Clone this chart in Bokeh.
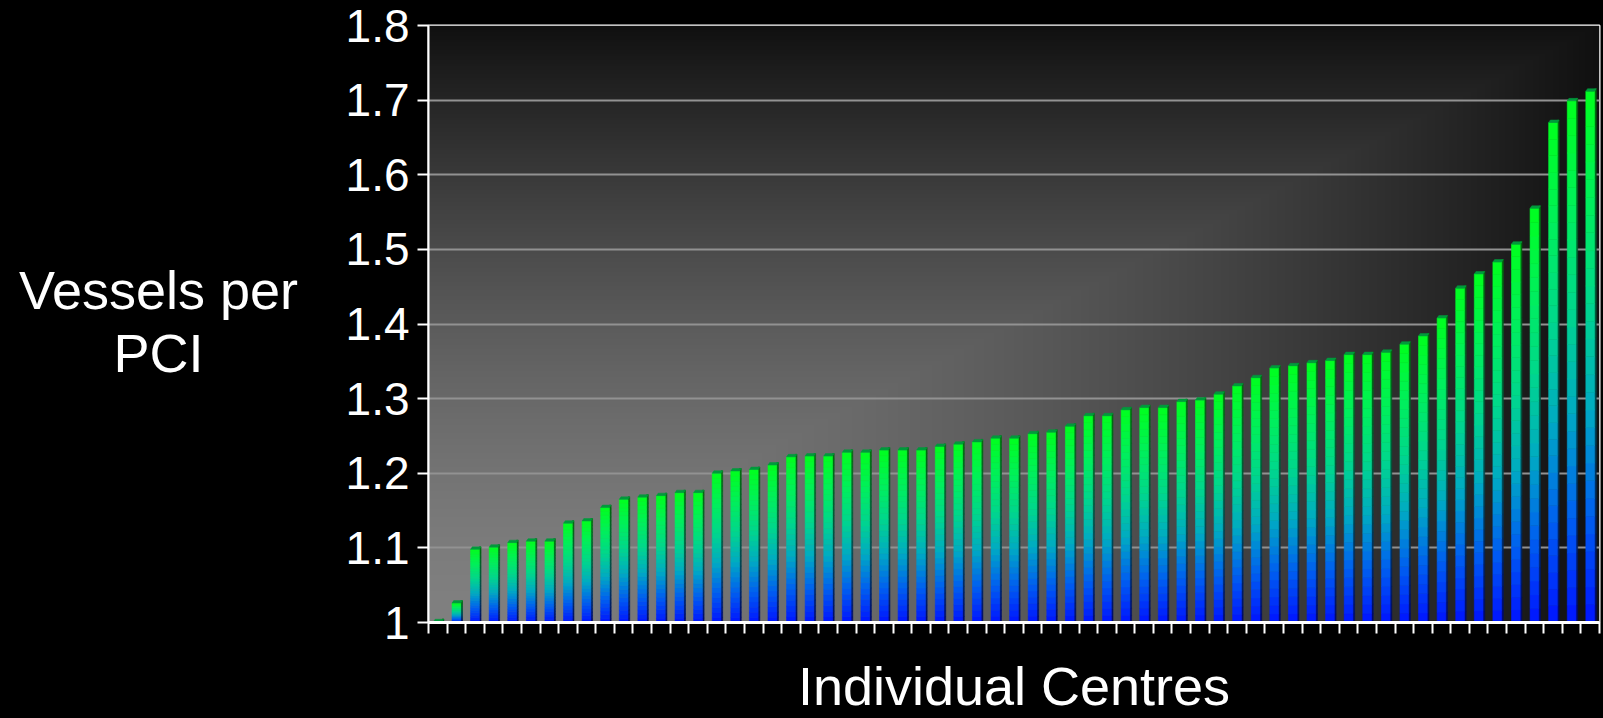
import numpy as np
from bokeh.plotting import figure
from bokeh.layouts import row
from bokeh.models import FixedTicker, CustomJSTickFormatter
from bokeh.core.properties import value
from bokeh.embed import file_html
from bokeh.resources import INLINE

# ---------------- data ----------------
values = [1.001, 1.026, 1.098, 1.101, 1.107, 1.109, 1.109, 1.133, 1.136, 1.154,
          1.165, 1.168, 1.170, 1.174, 1.174, 1.200, 1.203, 1.205, 1.211, 1.222,
          1.223, 1.223, 1.228, 1.228, 1.231, 1.231, 1.231, 1.236, 1.239, 1.242,
          1.247, 1.247, 1.253, 1.255, 1.263, 1.277, 1.277, 1.285, 1.288, 1.288,
          1.296, 1.298, 1.306, 1.317, 1.328, 1.341, 1.344, 1.348, 1.351, 1.359,
          1.359, 1.362, 1.373, 1.384, 1.408, 1.448, 1.467, 1.483, 1.507, 1.555,
          1.670, 1.699, 1.712]
y_ticks = [1.0, 1.1, 1.2, 1.3, 1.4, 1.5, 1.6, 1.7, 1.8]
x_title = "Individual Centres"
y_title_lines = ["Vessels per", "PCI"]

# ---------------- layout ----------------
n = len(values)
TOTAL_W, H = 1603, 718
LW = 316                      # width of the left title panel
W = TOTAL_W - LW
ML, MR, MT, MB = 112, 4, 25, 96
y0, y1 = 1.0, 1.8
FW = W - ML - MR
FH = H - MT - MB
px_x = n / FW
px_y = (y1 - y0) / FH

FONT = "Liberation Sans"

# ---- left panel with the y title (pixel coordinates) ----
lt = figure(width=LW, height=H, x_range=(0, LW), y_range=(H - MB, MT),
            x_axis_type=None, y_axis_type=None, output_backend="svg",
            toolbar_location=None, min_border_left=0, min_border_right=0,
            min_border_top=MT, min_border_bottom=MB)
lt.background_fill_alpha = 0
lt.border_fill_color = "black"
lt.outline_line_color = None
lt.xgrid.visible = False
lt.ygrid.visible = False
lt.text(x=[158, 158], y=[289, 352], text=y_title_lines, text_align="center",
        text_baseline="alphabetic", text_font=value(FONT), text_font_size="54px",
        text_color="white")

# ---- main chart ----
p = figure(width=W, height=H, x_range=(-0.5, n - 0.5), y_range=(y0, y1),
           output_backend="svg", toolbar_location=None,
           min_border_left=ML, min_border_right=MR, min_border_top=MT, min_border_bottom=MB)
p.background_fill_color = "black"
p.border_fill_color = "black"
p.outline_line_color = "white"
p.outline_line_width = 2

# background gradient (rectangular path gradient from bottom-left)
gw, gh = 586, 299
u = (np.arange(gw) + 0.5) / gw
v = (np.arange(gh) + 0.5) / gh
U, V = np.meshgrid(u, v)
t = np.maximum(U, V)
b = np.clip(16 + 112 * (1 - t ** 1.6), 0, 255).astype(np.uint8)
img = np.empty((gh, gw), dtype=np.uint32)
view = img.view(dtype=np.uint8).reshape((gh, gw, 4))
view[..., 0] = b
view[..., 1] = b
view[..., 2] = b
view[..., 3] = 255
p.image_rgba(image=[img], x=-0.5, y=y0, dw=n, dh=y1 - y0, level="image")

# grid
p.xgrid.visible = False
p.ygrid.ticker = FixedTicker(ticks=y_ticks)
p.ygrid.grid_line_color = "#929292"
p.ygrid.grid_line_width = 2

# bars with vertical gradient, side face and top cap
stops_f = [0.0, 0.2, 0.4, 0.6, 0.8, 1.0]
stops_c = np.array([(0, 20, 255), (0, 95, 240), (0, 170, 195),
                    (0, 215, 140), (0, 240, 90), (0, 255, 30)], dtype=float)

def grad(f, k=1.0):
    c = [np.interp(f, stops_f, stops_c[:, j]) * k for j in range(3)]
    return "#%02x%02x%02x" % tuple(int(round(x)) for x in c)

N = 30
hw = 0.235
sd = 1.7 * px_x
cap = 2.5 * px_y
fl, fr, fb, ft, fc = [], [], [], [], []
sl, sr, sb, st, sc = [], [], [], [], []
cx, cy = [], []
for i, val in enumerate(values):
    xl, xr = i - hw, i + hw
    for k in range(N):
        b0 = y0 + (val - y0) * k / N
        t0 = y0 + (val - y0) * (k + 1) / N
        f = (k + 0.5) / N
        fl.append(xl); fr.append(xr); fb.append(b0); ft.append(t0); fc.append(grad(f))
        sl.append(xr); sr.append(xr + sd); sb.append(b0 + cap * k / N)
        st.append(t0 + cap * (k + 1) / N); sc.append(grad(f, 0.42))
    cx.append([xl, xl + sd, xr + sd, xr])
    cy.append([val, val + cap, val + cap, val])

p.quad(left=sl, right=sr, bottom=sb, top=st, fill_color=sc, line_color=sc, line_width=0.6)
p.quad(left=fl, right=fr, bottom=fb, top=ft, fill_color=fc, line_color=fc, line_width=0.6)
p.patches(xs=cx, ys=cy, fill_color="#009a3c", line_color="#009a3c", line_width=0.5)

# y axis
ya = p.yaxis[0]
ya.ticker = FixedTicker(ticks=y_ticks)
ya.formatter = CustomJSTickFormatter(code="return tick.toFixed(1).replace(/\\.0$/, '');")
ya.axis_line_color = "white"
ya.axis_line_width = 2
ya.major_tick_line_color = "white"
ya.major_tick_line_width = 2
ya.major_tick_out = 11
ya.major_tick_in = 0
ya.minor_tick_line_color = None
ya.major_label_text_font = FONT
ya.major_label_text_font_size = "46px"
ya.major_label_text_color = "white"
ya.major_label_standoff = 8

# x axis
xa = p.xaxis[0]
xa.ticker = FixedTicker(ticks=[i - 0.5 for i in range(n + 1)])
xa.formatter = CustomJSTickFormatter(code="return '';")
xa.axis_line_color = "white"
xa.axis_line_width = 3
xa.major_tick_line_color = "white"
xa.major_tick_line_width = 2
xa.major_tick_out = 11
xa.major_tick_in = 0
xa.minor_tick_line_color = None
xa.major_label_text_font_size = "0px"
xa.major_label_standoff = 0
xa.axis_label = x_title
xa.axis_label_text_font = FONT
xa.axis_label_text_font_size = "54px"
xa.axis_label_text_font_style = "normal"
xa.axis_label_text_color = "white"
xa.axis_label_standoff = 22

layout = row(lt, p, spacing=0)
layout.styles = {"background-color": "black"}
open("out.html", "w").write(file_html(layout, INLINE))
